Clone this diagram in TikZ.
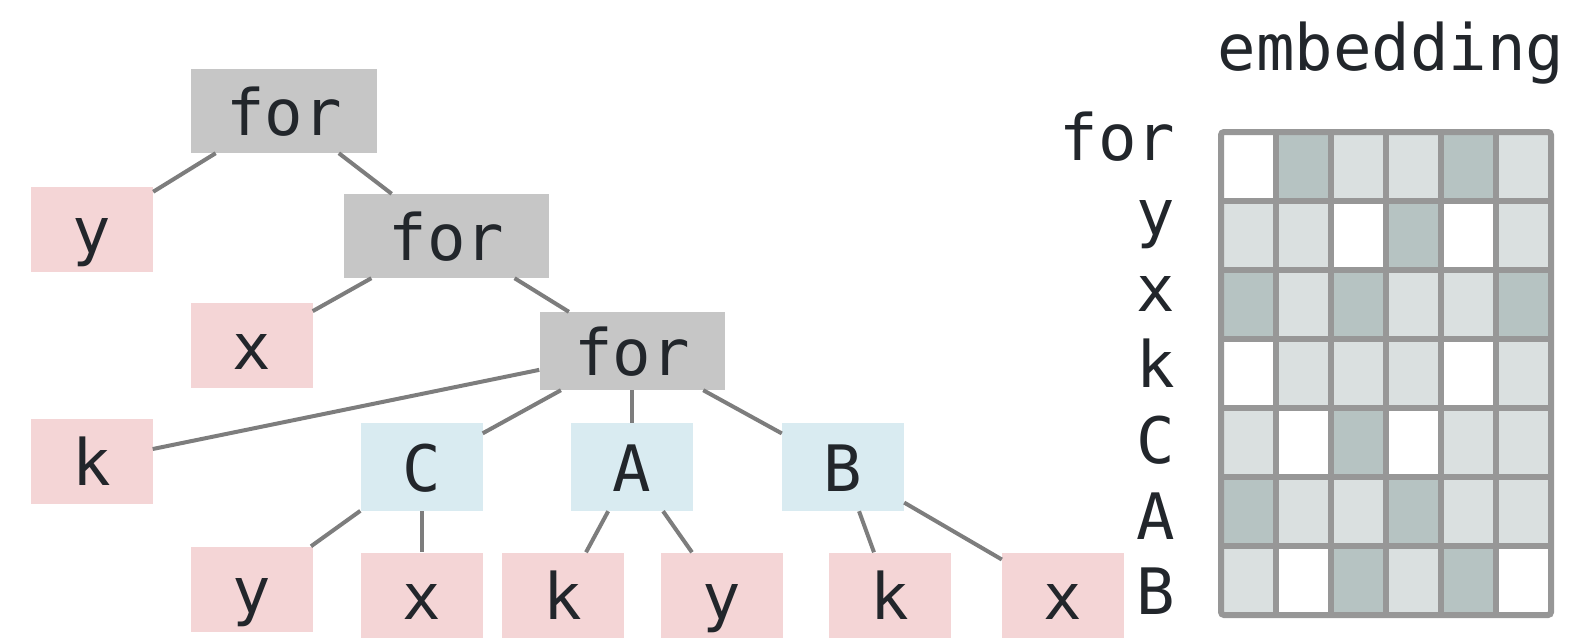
\documentclass[tikz,border=0pt]{standalone}
\usepackage{fontspec}
\setmonofont{DejaVu Sans Mono}
\definecolor{ink}{HTML}{22262B}
\definecolor{opfill}{HTML}{C6C6C6}
\definecolor{leaffill}{HTML}{F4D5D6}
\definecolor{varfill}{HTML}{D9EBF1}
\definecolor{edgecol}{HTML}{7D7D7D}
\definecolor{gridcol}{HTML}{979797}
\definecolor{c0}{HTML}{FFFFFF}
\definecolor{c1}{HTML}{DAE0E0}
\definecolor{c2}{HTML}{B6C3C2}
\begin{document}
\begin{tikzpicture}[x=1pt,y=-1pt,
  lbl/.style={font=\ttfamily\fontsize{64}{70}\selectfont, text=ink},
  box/.style={lbl, inner sep=0pt, text height=48pt, text depth=0pt,
              minimum width=122pt, minimum height=85pt},
  opbox/.style={box, fill=opfill, minimum height=84pt},
  leaf/.style={box, fill=leaffill},
  varbox/.style={box, fill=varfill, minimum height=88pt},
  edge/.style={draw=edgecol, line width=4pt}]
\useasboundingbox (0,0) rectangle (1579,638);

% syntax tree
\node[opbox, minimum width=186pt] (for1) at (284,111) {for};
\node[leaf] (y1) at (92,229.5) {y};
\node[opbox, minimum width=205pt] (for2) at (446.5,236) {for};
\node[leaf] (x1) at (251.5,345.5) {x};
\node[opbox, minimum width=185pt, minimum height=78pt] (for3) at (632,351) {for};
\node[leaf] (k1) at (91.5,461.5) {k};
\node[varbox] (C) at (421.5,467) {C};
\node[varbox] (A) at (632,467) {A};
\node[varbox] (B) at (843,467) {B};
\node[leaf] (cy) at (251.5,589) {y};
\node[leaf] (cx) at (421.5,595) {x};
\node[leaf] (ak) at (563,595) {k};
\node[leaf] (ay) at (722,595) {y};
\node[leaf] (bk) at (889.5,595) {k};
\node[leaf] (bx) at (1063,595) {x};

\draw[edge] (for1) -- (y1);
\draw[edge] (for1) -- (for2);
\draw[edge] (for2) -- (x1);
\draw[edge] (for2) -- (for3);
\draw[edge] (for3) -- (k1);
\draw[edge] (for3) -- (C);
\draw[edge] (for3) -- (A);
\draw[edge] (for3) -- (B);
\draw[edge] (C) -- (cy);
\draw[edge] (C) -- (cx);
\draw[edge] (A) -- (ak);
\draw[edge] (A) -- (ay);
\draw[edge] (B) -- (bk);
\draw[edge] (B) -- (bx);

% embedding matrix
\node[lbl, anchor=base] (title) at (1391,70) {embedding};
\foreach \t [count=\i from 0] in {for,y,x,k,C,A,B}
  \node[lbl, anchor=base east] (row\i) at (1179,160+75.8*\i) {\t};
\foreach \vals [count=\r from 0] in
  {{0,2,1,1,2,1},{1,1,0,2,0,1},{2,1,2,1,1,2},{0,1,1,1,0,1},
   {1,0,2,0,1,1},{2,1,1,2,1,1},{1,0,2,1,2,0}}
  \foreach \v [count=\c from 0] in \vals
    \fill[fill=c\v] (1221+55*\c,132+69*\r) rectangle ++(55,69);
\foreach \c in {1,...,5}
  \draw[gridcol, line width=6pt] (1221+55*\c,132) -- (1221+55*\c,615);
\foreach \r in {1,...,6}
  \draw[gridcol, line width=6pt] (1221,132+69*\r) -- (1551,132+69*\r);
\draw[gridcol, line width=6pt, rounded corners=3pt] (1221,132) rectangle (1551,615);
\end{tikzpicture}
\end{document}
